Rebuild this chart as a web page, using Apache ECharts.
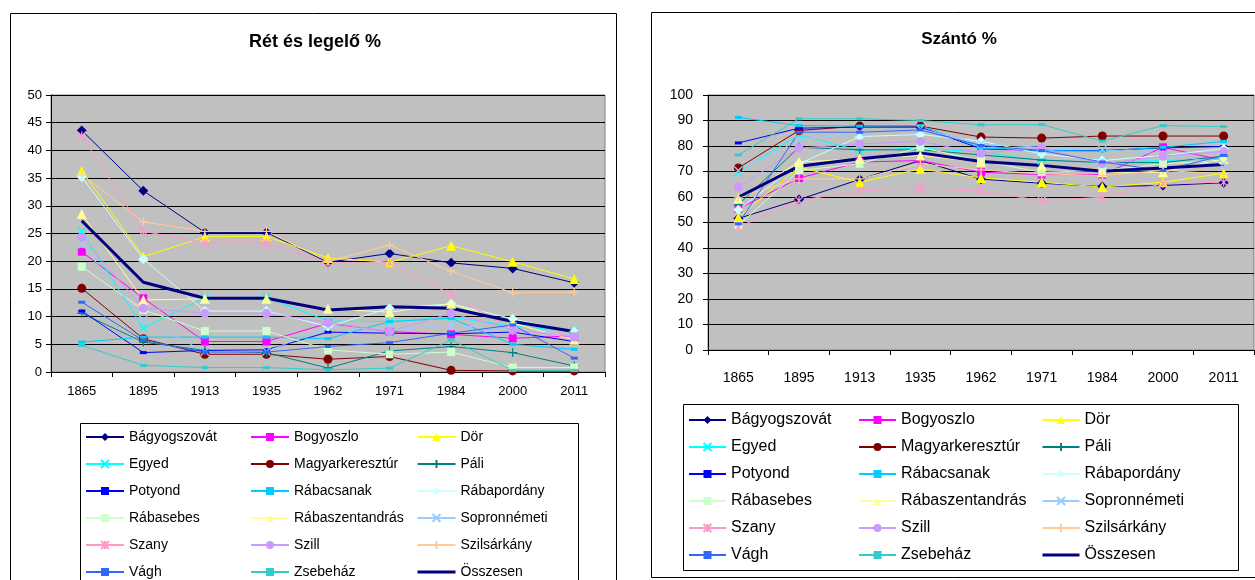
<!DOCTYPE html>
<html><head><meta charset="utf-8">
<script src="https://cdn.jsdelivr.net/npm/echarts/dist/echarts.min.js"></script>
<style>html,body{margin:0;padding:0;background:#fff}#c{width:1255px;height:580px}</style>
</head><body><div id="c"></div><script>
// ---- data ----
const years = ['1865','1895','1913','1935','1962','1971','1984','2000','2011'];
const seriesNames = ['Bágyogszovát','Bogyoszlo','Dör','Egyed','Magyarkeresztúr','Páli','Potyond','Rábacsanak','Rábapordány','Rábasebes','Rábaszentandrás','Sopronnémeti','Szany','Szill','Szilsárkány','Vágh','Zsebeház','Összesen'];
const leftTicks = [0,5,10,15,20,25,30,35,40,45,50];
const rightTicks = [0,10,20,30,40,50,60,70,80,90,100];

// Rét és legelő %
const retBagyogszovat   = [43.6, 32.7, 25.2, 25.2, 19.8, 21.4, 19.7, 18.7, 16.1];
const retBogyoszlo      = [21.7, 13.3, 5.5, 5.5, 8.8, 7.3, 6.8, 6.1, 6.5];
const retDor            = [36.3, 20.8, 24.4, 24.5, 20.6, 19.8, 22.8, 19.9, 16.8];
const retEgyed          = [25.4, 7.9, 13.4, 13.5, 9.2, 9.1, 9.9, 8.3, 7.4];
const retMagyarkereszt  = [15.1, 6.0, 3.2, 3.2, 2.3, 2.8, 0.3, 0.2, 0.2];
const retPali           = [10.6, 5.4, 3.9, 3.5, 0.7, 3.8, 4.6, 3.5, 1.1];
const retPotyond        = [11.0, 3.5, 3.9, 4.0, 7.2, 7.0, 6.9, 7.2, 5.5];
const retRabacsanak     = [5.4, 6.3, 6.3, 6.3, 6.0, 9.1, 9.7, 5.0, 4.1];
const retRabapordany    = [35.2, 20.4, 11.0, 11.0, 8.2, 11.5, 12.3, 9.6, 7.3];
const retRabasebes      = [19.0, 11.2, 7.4, 7.4, 4.0, 3.2, 3.6, 0.8, 0.8];
const retRabaszentandras= [28.5, 13.0, 13.2, 13.2, 11.4, 10.8, 12.3, 8.8, 5.8];
const retSopronnemeti   = [23.0, 9.4, 3.7, 3.7, 8.2, 7.6, 8.5, 7.6, 6.7];
const retSzany          = [42.6, 25.4, 23.3, 23.3, 19.7, 19.7, 14.0, 7.6, 6.5];
const retSzill          = [24.3, 11.5, 10.6, 10.6, 8.9, 7.3, 10.6, 7.6, 6.3];
const retSzilsarkany    = [35.6, 27.1, 25.4, 25.4, 20.0, 22.9, 18.2, 14.3, 14.4];
const retVagh           = [12.6, 5.7, 3.6, 3.6, 4.6, 5.3, 7.0, 8.5, 2.5];
const retZsebehaz       = [4.8, 1.2, 0.8, 0.8, 0.4, 0.7, 5.8, 0.3, 0.3];
const retOsszesen       = [27.3, 16.2, 13.3, 13.3, 11.2, 11.8, 11.5, 9.1, 7.3];

// Szántó %
const szaBagyogszovat   = [51.6, 59.0, 66.9, 74.3, 67.0, 65.4, 64.1, 64.5, 65.6];
const szaBogyoszlo      = [55.4, 67.4, 73.7, 74.3, 69.7, 68.8, 68.8, 79.5, 74.3];
const szaDor            = [52.1, 71.7, 65.8, 71.0, 67.5, 65.8, 63.9, 65.8, 69.3];
const szaEgyed          = [69.7, 84.4, 78.2, 79.2, 77.6, 74.3, 73.7, 74.3, 75.0];
const szaMagyarkereszt  = [71.4, 86.1, 87.8, 87.8, 83.5, 83.1, 83.9, 83.9, 83.9];
const szaPali           = [57.0, 79.5, 78.5, 78.5, 76.5, 74.5, 73.5, 73.5, 76.0];
const szaPotyond        = [81.2, 87.0, 87.4, 87.4, 78.9, 78.2, 78.2, 79.3, 79.8];
const szaRabacsanak     = [91.2, 88.0, 87.8, 88.0, 79.3, 78.2, 78.0, 79.5, 81.8];
const szaRabapordany    = [55.0, 73.0, 83.7, 84.5, 81.9, 76.9, 74.3, 76.3, 78.9];
const szaRabasebes      = [48.8, 70.4, 73.0, 79.5, 74.1, 69.7, 70.4, 73.0, 74.3];
const szaRabaszentandras= [59.3, 73.7, 75.0, 76.3, 73.7, 72.4, 69.7, 69.7, 75.0];
const szaSopronnemeti   = [70.4, 82.2, 85.4, 86.7, 80.8, 79.5, 78.5, 76.9, 73.0];
const szaSzany          = [48.2, 58.6, 62.5, 63.2, 62.3, 58.6, 59.9, 65.2, 65.8];
const szaSzill          = [63.9, 79.2, 80.8, 81.8, 77.2, 79.2, 73.0, 76.0, 77.8];
const szaSzilsarkany    = [59.9, 67.1, 67.1, 73.0, 70.6, 69.1, 68.4, 70.4, 69.1];
const szaVagh           = [49.5, 85.4, 85.4, 86.3, 80.2, 78.2, 73.7, 70.4, 76.3];
const szaZsebehaz       = [76.5, 90.7, 90.7, 90.0, 88.3, 88.4, 81.9, 88.0, 87.6];
const szaOsszesen       = [59.9, 72.1, 75.0, 77.3, 73.9, 72.4, 70.1, 71.4, 72.7];

const retData = [retBagyogszovat, retBogyoszlo, retDor, retEgyed, retMagyarkereszt, retPali, retPotyond, retRabacsanak, retRabapordany, retRabasebes, retRabaszentandras, retSopronnemeti, retSzany, retSzill, retSzilsarkany, retVagh, retZsebehaz, retOsszesen];
const szaData = [szaBagyogszovat, szaBogyoszlo, szaDor, szaEgyed, szaMagyarkereszt, szaPali, szaPotyond, szaRabacsanak, szaRabapordany, szaRabasebes, szaRabaszentandras, szaSopronnemeti, szaSzany, szaSzill, szaSzilsarkany, szaVagh, szaZsebehaz, szaOsszesen];

// ---- styles ----
const X = 'path://M0,0L10,10M10,0L0,10';
const PLUS = 'path://M5,0L5,10M0,5L10,5';
const AST = 'path://M0,0L10,10M10,0L0,10M5,0L5,10';
const styles = [
  {c:'#000080', s:'diamond', z:10},
  {c:'#FF00FF', s:'rect', z:8},
  {c:'#FFFF00', s:'triangle', z:10},
  {c:'#00FFFF', s:X, z:8, k:1},
  {c:'#800000', s:'circle', z:9},
  {c:'#008080', s:PLUS, z:9, k:1},
  {c:'#0000FF', s:'rect', z:[7,3]},
  {c:'#00CCFF', s:'rect', z:[7,3]},
  {c:'#CCFFFF', s:'diamond', z:10},
  {c:'#CCFFCC', s:'rect', z:8},
  {c:'#FFFF99', s:'triangle', z:10},
  {c:'#99CCFF', s:X, z:8, k:1},
  {c:'#FF99CC', s:AST, z:9, k:1},
  {c:'#CC99FF', s:'circle', z:9},
  {c:'#FFCC99', s:PLUS, z:9, k:1},
  {c:'#3366FF', s:'rect', z:[7,3]},
  {c:'#33CCCC', s:'rect', z:[7,3]},
  {c:'#000080', s:'none', z:0, w:3}
];

function buildSeries(dataList, idx) {
  return dataList.map((d, i) => {
    const st = styles[i];
    return {
      type: 'line', name: seriesNames[i], data: d,
      xAxisIndex: idx, yAxisIndex: idx,
      symbol: st.s, symbolSize: st.z, showSymbol: st.s !== 'none',
      lineStyle: {color: st.c, width: st.w || 1},
      itemStyle: {color: st.c, borderColor: st.c, borderWidth: st.k ? 1.2 : 0},
      emphasis: {disabled: true}, animation: false
    };
  });
}

const FONT = 'Liberation Sans';
function legendCol(names, left, top, w, fs, lh, gap) {
  return {
    orient: 'vertical', left: left, top: top, padding: 0,
    itemWidth: w, itemHeight: 10, itemGap: gap, selectedMode: false,
    data: names.map(n => n === 'Összesen' ? {name: n, itemStyle: {opacity: 0}, lineStyle: {width: 3, color: '#000080'}} : n),
    textStyle: {fontFamily: FONT, fontSize: fs, color: '#000', lineHeight: lh, padding: 0}
  };
}
const col1 = seriesNames.filter((n, i) => i % 3 === 0);
const col2 = seriesNames.filter((n, i) => i % 3 === 1);
const col3 = seriesNames.filter((n, i) => i % 3 === 2);

function xAxisCfg(gi, fs, margin) {
  return {
    type: 'category', gridIndex: gi, data: years, boundaryGap: true,
    axisLine: {lineStyle: {color: '#000', width: 1}},
    axisTick: {show: true, length: 5, lineStyle: {color: '#000'}},
    axisLabel: {fontFamily: FONT, fontSize: fs, color: '#000', margin: margin}
  };
}
function yAxisCfg(gi, ticks, fs, margin) {
  return {
    type: 'value', gridIndex: gi, min: ticks[0], max: ticks[ticks.length - 1],
    interval: ticks[1] - ticks[0],
    axisLine: {show: true, lineStyle: {color: '#000', width: 1}},
    axisTick: {show: true, length: 5, lineStyle: {color: '#000'}},
    axisLabel: {fontFamily: FONT, fontSize: fs, color: '#000', margin: margin},
    splitLine: {show: true, lineStyle: {color: '#000', width: 1}}
  };
}

const chart = echarts.init(document.getElementById('c'), null, {renderer: 'canvas'});
chart.setOption({
  animation: false,
  backgroundColor: '#fff',
  grid: [
    {left: 51, top: 95, width: 554, height: 277, show: true, backgroundColor: '#C0C0C0', borderColor: '#808080', borderWidth: 1},
    {left: 708, top: 95, width: 546, height: 255, show: true, backgroundColor: '#C0C0C0', borderColor: '#808080', borderWidth: 1}
  ],
  xAxis: [xAxisCfg(0, 13, 13), xAxisCfg(1, 14, 21)],
  yAxis: [yAxisCfg(0, leftTicks, 13, 9), yAxisCfg(1, rightTicks, 14, 15)],
  legend: [
    legendCol(col1, 85, 430, 38, 14, 14, 13), legendCol(col2, 250, 430, 38, 14, 14, 13), legendCol(col3, 416, 430, 38, 14, 14, 13),
    legendCol(col1, 688, 412, 37, 16, 16, 11), legendCol(col2, 858, 412, 37, 16, 16, 11), legendCol(col3, 1041, 412, 37, 16, 16, 11)
  ],
  graphic: [
    {type: 'rect', shape: {x: 10.5, y: 13.5, width: 606, height: 600}, style: {fill: null, stroke: '#000', lineWidth: 1}, silent: true, z: -1},
    {type: 'rect', shape: {x: 651.5, y: 12.5, width: 700, height: 565}, style: {fill: null, stroke: '#000', lineWidth: 1}, silent: true, z: -1},
    {type: 'rect', shape: {x: 80.5, y: 423.5, width: 498, height: 200}, style: {fill: null, stroke: '#000', lineWidth: 1}, silent: true},
    {type: 'rect', shape: {x: 683.5, y: 404.5, width: 555, height: 166}, style: {fill: null, stroke: '#000', lineWidth: 1}, silent: true},
    {type: 'text', x: 315, y: 42, style: {text: 'Rét és legelő %', font: 'bold 18px "Liberation Sans"', fill: '#000', textAlign: 'center', textVerticalAlign: 'middle'}},
    {type: 'text', x: 959, y: 39, style: {text: 'Szántó %', font: 'bold 17px "Liberation Sans"', fill: '#000', textAlign: 'center', textVerticalAlign: 'middle'}}
  ],
  series: buildSeries(retData, 0).concat(buildSeries(szaData, 1))
});
</script></body></html>
